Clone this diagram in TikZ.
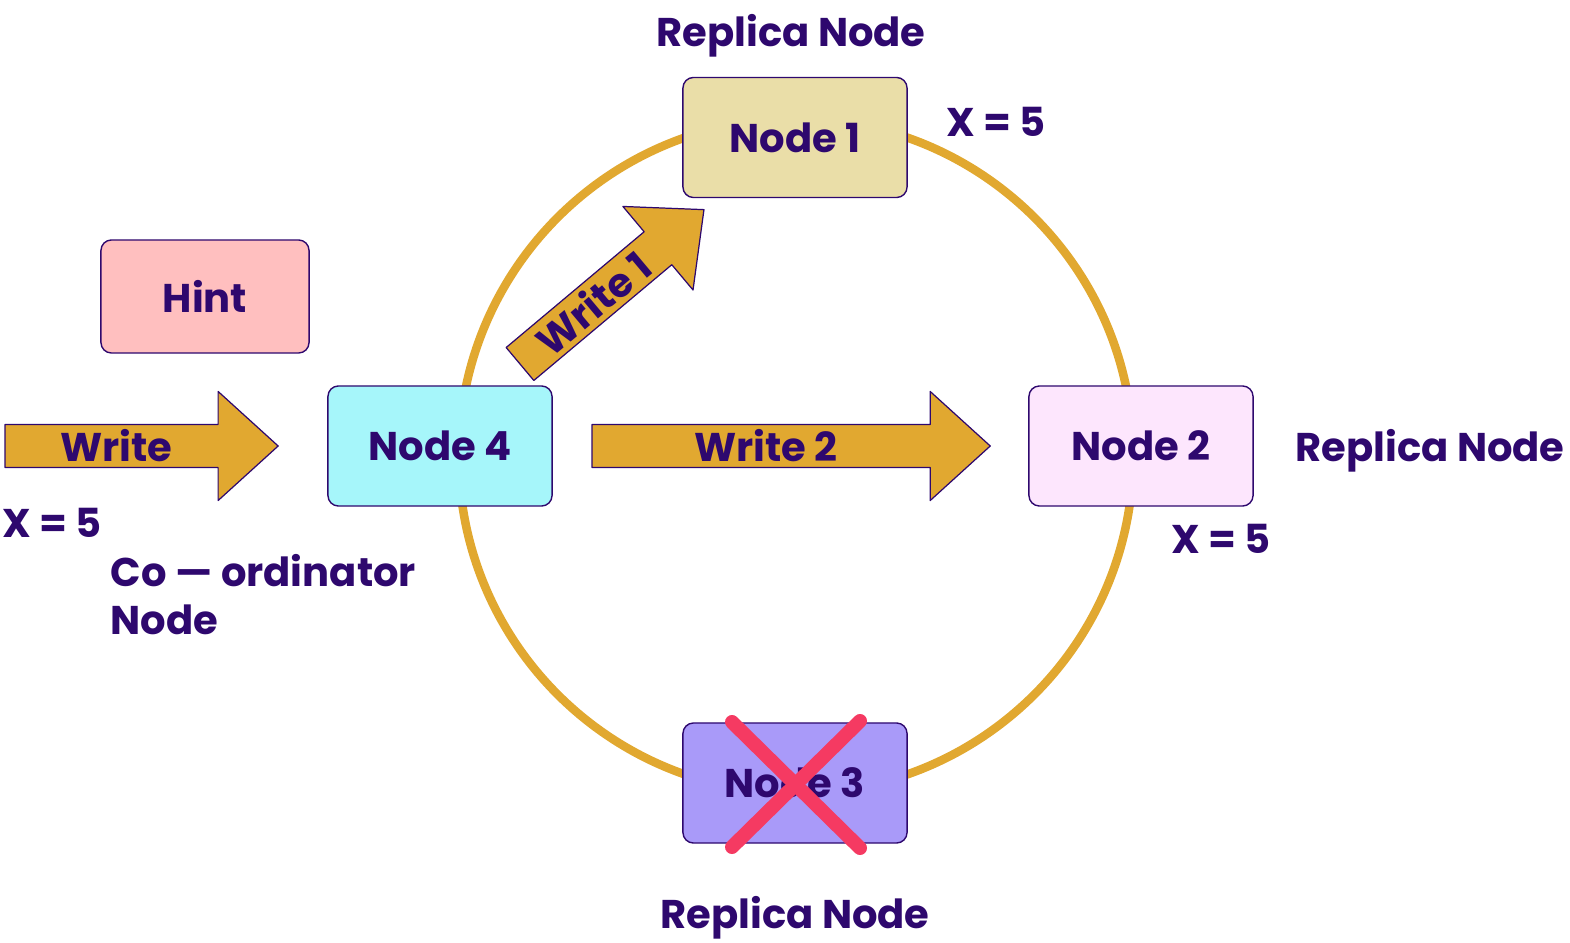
\documentclass[tikz,border=0pt]{standalone}
\usepackage{fontspec}
\setmainfont{Poppins}
\usepackage{xcolor}
\definecolor{ink}{RGB}{46, 8, 110}
\definecolor{gold}{RGB}{225, 168, 48}
\definecolor{sand}{RGB}{234, 222, 168}
\definecolor{aqua}{RGB}{166, 246, 250}
\definecolor{blush}{RGB}{253, 230, 253}
\definecolor{lilac}{RGB}{169, 154, 249}
\definecolor{rose}{RGB}{255, 191, 191}
\definecolor{alert}{RGB}{245, 58, 98}
\usetikzlibrary{positioning}

% block arrow: name, tail point, angle, length in cm, text
\newcommand{\writearrow}[5]{%
  \begin{scope}[shift={#2}, x=1cm, y=1cm, rotate=#3]
    \draw[blockarrow] (0,-0.215) -- ({#4-0.6},-0.215) -- ({#4-0.6},-0.545) -- (#4,0)
      -- ({#4-0.6},0.545) -- ({#4-0.6},0.215) -- (0,0.215) -- cycle;
    \node[labeltext, transform shape, inner sep=0pt] (#1) at ({(#4-0.6)/2+0.05},0) {#5};
  \end{scope}}

\begin{document}
\begin{tikzpicture}[
  x=0.01cm, y=-0.01cm,
  labeltext/.style={font=\bfseries\fontsize{11.4pt}{13.7pt}\selectfont, text=ink},
  nodebox/.style={labeltext, draw=ink, line width=0.4pt, rounded corners=3pt, minimum width=2.24cm, minimum height=1.2cm, inner sep=0pt},
  blockarrow/.style={draw=ink, fill=gold, line width=0.35pt, line join=round},
  ring/.style={draw=gold, line width=0.085cm},
  crossline/.style={draw=alert, line width=0.14cm, line cap=round}
]
\useasboundingbox (0,0) rectangle (1570,943);

% the ring
\coordinate (ctr) at (796,456);
\draw[ring] (ctr) circle[radius=3.37cm];

% nodes on the ring
\node[nodebox, fill=sand] (n1) at (795,137.5) {Node 1};
\node[nodebox, fill=aqua] (n4) at (440,446) {Node 4};
\node[nodebox, fill=blush] (n2) at (1141,446) {Node 2};
\node[nodebox, fill=lilac] (n3) at (795,783) {Node 3};
\node[nodebox, fill=rose, minimum width=2.08cm, minimum height=1.13cm] (hint) at (205,296.5) {Hint};

% failed node
\draw[crossline] ([shift={(-63,-61)}]n3.center) -- ([shift={(65,65)}]n3.center);
\draw[crossline] ([shift={(65,-62)}]n3.center) -- ([shift={(-63,64)}]n3.center);

% write arrows
\writearrow{wr}{(5,446)}{0}{2.73}{Write}
\writearrow{wr2}{(592,446)}{0}{3.98}{Write 2}
\writearrow{wr1}{(520,364)}{40}{2.40}{Write 1}

% labels
\node[labeltext] (rep1) at (791,36) {Replica Node};
\node[labeltext] (val1) at (996,122) {X = 5};
\node[labeltext] (rep2) at (1430,451) {Replica Node};
\node[labeltext] (val2) at (1221,539) {X = 5};
\node[labeltext] (rep3) at (795,918) {Replica Node};
\node[labeltext] (val4) at (52,523) {X = 5};
\node[labeltext, align=left, anchor=north west, inner sep=0pt] (coord) at (110,554) {Co — ordinator\\Node};
\end{tikzpicture}
\end{document}
